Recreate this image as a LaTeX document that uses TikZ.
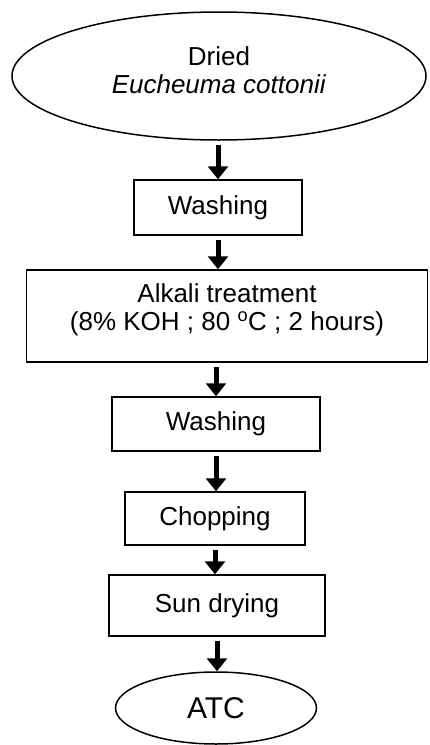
\documentclass[tikz,border=0pt]{standalone}
\usepackage{fontspec}
\setmainfont{Liberation Sans}
\usetikzlibrary{shapes.geometric,arrows.meta}

\begin{document}
\begin{tikzpicture}[x=1pt,y=-1pt]

      \useasboundingbox (0,0) rectangle (429,745);

      \begin{scope}[every node/.style={draw,line width=1.5pt,inner sep=0pt,align=center,
          font=\fontsize{26}{28}\selectfont}]
        \node[ellipse,minimum width=414pt,minimum height=128pt,text depth=12pt] (1) at (219,76)
          {Dried\\\textit{Eucheuma cottonii}};
        \node[minimum width=168pt,minimum height=55pt]  (2) at (218,207.5) {Washing};
        \node[minimum width=401pt,minimum height=92pt,text depth=17pt]  (3) at (227,316)
          {Alkali treatment\\(8\% KOH ; 80 \textsuperscript{o}C ; 2 hours)};
        \node[minimum width=208pt,minimum height=54pt]  (4) at (216,424)   {Washing};
        \node[minimum width=180pt,minimum height=53pt]  (5) at (215,518.5) {Chopping};
        \node[minimum width=216pt,minimum height=61pt]  (6) at (217,605.5) {Sun drying};
        \node[ellipse,minimum width=201pt,minimum height=72pt,
          font=\fontsize{30}{32}\selectfont] (7) at (216,708) {ATC};
      \end{scope}

      \begin{scope}[every edge/.style={draw,line width=5pt,shorten <=4pt,
          -{Triangle[length=13pt,width=20pt]}}]
        \path (2.north |- 1.south) edge (2.north);
        \path (2.south) edge (2.south |- 3.north);
        \path (4.north |- 3.south) edge (4.north);
        \path (4.south) edge (4.south |- 5.north);
        \path (5.south) edge (5.south |- 6.north);
        \path (6.south) edge (6.south |- 7.north);
      \end{scope}

    \end{tikzpicture}
\end{document}
